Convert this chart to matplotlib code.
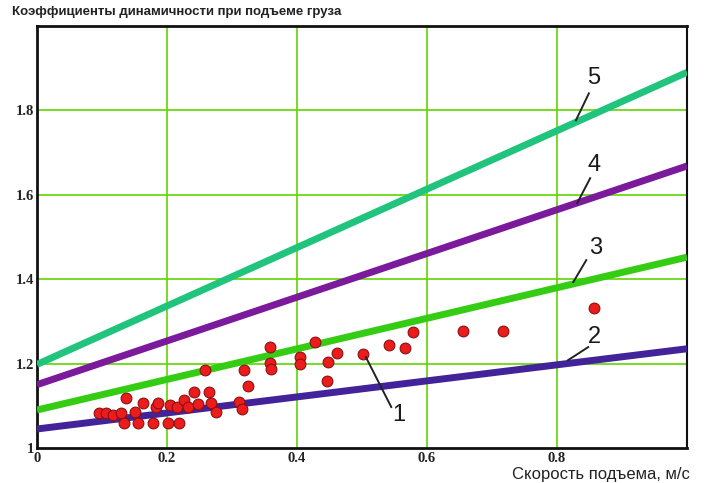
import numpy as np
import matplotlib
matplotlib.use("Agg")
import matplotlib.pyplot as plt

# измеренные коэффициенты динамичности (точки 1)
speed_meas = [0.096, 0.106, 0.117, 0.129, 0.137, 0.134, 0.150, 0.155, 0.163, 0.178,
              0.183, 0.186, 0.201, 0.204, 0.216, 0.219, 0.226, 0.232, 0.242, 0.247,
              0.258, 0.265, 0.268, 0.275, 0.311, 0.316, 0.318, 0.325, 0.359, 0.359,
              0.360, 0.404, 0.405, 0.428, 0.446, 0.448, 0.462, 0.501, 0.542, 0.566,
              0.579, 0.655, 0.717, 0.857]
kdin_meas = [1.082, 1.082, 1.078, 1.082, 1.118, 1.058, 1.086, 1.058, 1.107, 1.058,
             1.098, 1.106, 1.058, 1.102, 1.098, 1.060, 1.114, 1.098, 1.132, 1.104,
             1.185, 1.133, 1.107, 1.086, 1.110, 1.092, 1.185, 1.147, 1.240, 1.201,
             1.187, 1.216, 1.198, 1.252, 1.159, 1.204, 1.226, 1.222, 1.245, 1.236,
             1.275, 1.278, 1.278, 1.331]

# расчетные зависимости 2..5: значения на концах диапазона скорости
speed_line = [0.0, 1.0]
k2 = [1.045, 1.235]
k3 = [1.09, 1.452]
k4 = [1.15, 1.668]
k5 = [1.198, 1.89]

line_colors = {"2": "#43239a", "3": "#35cc14", "4": "#7b1b9c", "5": "#20c47c"}

# подписи кривых: позиция цифры и выносной линии
labels = ["1", "2", "3", "4", "5"]
label_xy = [(0.557, 1.078), (0.857, 1.263), (0.860, 1.473), (0.857, 1.670), (0.857, 1.876)]
leader_from = [(0.506, 1.215), (0.817, 1.208), (0.825, 1.393), (0.831, 1.580), (0.829, 1.776)]
leader_to = [(0.545, 1.097), (0.848, 1.239), (0.845, 1.445), (0.851, 1.639), (0.849, 1.840)]

xticks = [0, 0.2, 0.4, 0.6, 0.8]
yticks = [1, 1.2, 1.4, 1.6, 1.8]

fig = plt.figure(figsize=(7.05, 4.83), dpi=100)
ax = fig.add_axes([0.0525, 0.0725, 0.922, 0.874])

ax.set_xlim(0, 1.0)
ax.set_ylim(1, 2.0)

for xv in xticks[1:]:
    ax.axvline(xv, color="#5fd600", lw=1.2, zorder=1)
for yv in yticks[1:]:
    ax.axhline(yv, color="#5fd600", lw=1.2, zorder=1)

ax.plot(speed_line, k2, color=line_colors["2"], lw=5, solid_capstyle="butt", zorder=3)
ax.plot(speed_line, k3, color=line_colors["3"], lw=5, solid_capstyle="butt", zorder=3)
ax.plot(speed_line, k4, color=line_colors["4"], lw=5, solid_capstyle="butt", zorder=3)
ax.plot(speed_line, k5, color=line_colors["5"], lw=5, solid_capstyle="butt", zorder=3)

ax.scatter(speed_meas, kdin_meas, s=60, color="#ec1c1c", edgecolors="#8a1010",
           linewidths=0.8, zorder=4)

for lab, (tx, ty), (x0, y0), (x1, y1) in zip(labels, label_xy, leader_from, leader_to):
    ax.plot([x0, x1], [y0, y1], color="#222222", lw=1.4, zorder=5)
    ax.text(tx, ty, lab, fontsize=17, family="Liberation Sans", color="#1a1a1a",
            ha="center", va="center", zorder=5)

ax.set_xticks(xticks)
ax.set_xticklabels(["0", "0.2", "0.4", "0.6", "0.8"])
ax.set_yticks(yticks)
ax.set_yticklabels(["1", "1.2", "1.4", "1.6", "1.8"])
ax.tick_params(axis="x", length=0, pad=3, labelsize=10.5)
ax.tick_params(axis="y", length=0, pad=2, labelsize=10.5)
for lbl in ax.get_xticklabels() + ax.get_yticklabels():
    lbl.set_family("Liberation Serif")
    lbl.set_weight("bold")
    lbl.set_color("#222222")

for side in ["left", "top", "bottom"]:
    ax.spines[side].set_linewidth(2.0)
ax.spines["right"].set_linewidth(1.5)
for sp in ax.spines.values():
    sp.set_color("#111111")

fig.text(0.017, 0.975, "Коэффициенты динамичности при подъеме груза",
         fontsize=9.5, fontweight="bold", family="Liberation Sans",
         color="#222222", ha="left", va="center")
fig.text(0.978, 0.018, "Скорость подъема, м/с", fontsize=12,
         family="Liberation Sans", color="#222222", ha="right", va="center")

fig.savefig("out.png", dpi=100)
